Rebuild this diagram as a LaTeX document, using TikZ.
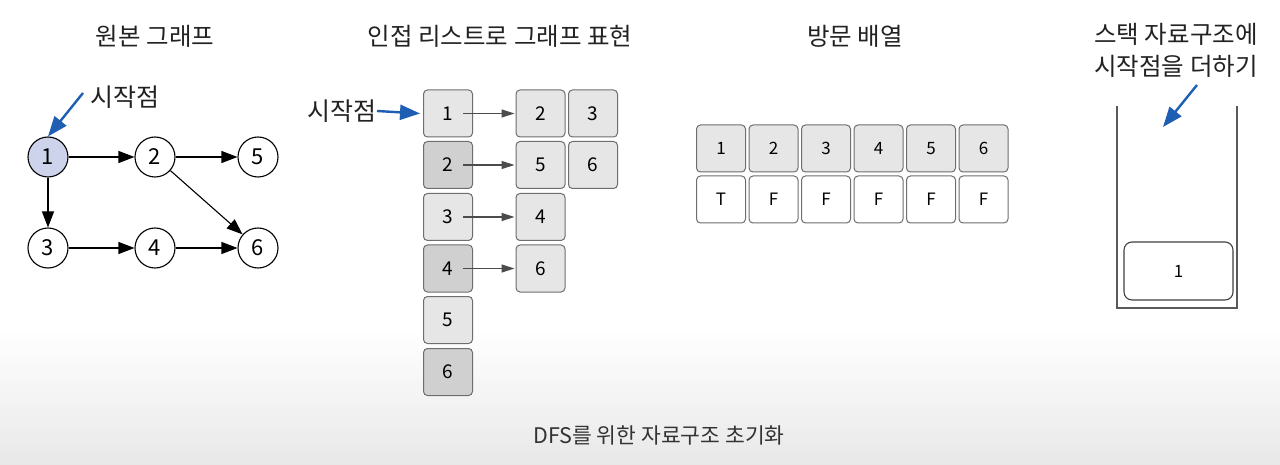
\documentclass[tikz,border=0pt]{standalone}
\usepackage{fontspec}
\setmainfont{Noto Sans CJK KR}
\usetikzlibrary{arrows.meta}
\definecolor{nodeblue}{HTML}{CDD3EA}
\definecolor{arrowblue}{HTML}{1E5FB4}
\definecolor{boxlight}{HTML}{E6E6E6}
\definecolor{boxdark}{HTML}{D0D0D0}
\definecolor{boxedge}{HTML}{6E6E6E}
\definecolor{textgray}{HTML}{222222}
\tikzset{
  title/.style={font=\fontsize{24.5}{28}\selectfont, text=textgray, inner sep=0pt},
  gnode/.style={circle, draw=black, line width=1.1pt, minimum size=40pt, inner sep=0pt, fill=white, font=\fontsize{22}{24}\selectfont},
  garrow/.style={line width=1.1pt, -{Triangle[length=16pt,width=12pt]}},
  lbox/.style={draw=boxedge, line width=1pt, rounded corners=4pt, minimum width=49pt, minimum height=47pt, inner sep=0pt, fill=boxlight, font=\fontsize{19}{22}\selectfont},
  dbox/.style={lbox, fill=boxdark},
  wbox/.style={lbox, fill=white},
  vbox/.style={lbox, font=\fontsize{17}{20}\selectfont},
  larrow/.style={draw=black!70, line width=1.3pt, -{Triangle[length=13pt,width=8pt]}},
  barrow/.style={draw=arrowblue, line width=2.4pt, -{Triangle[length=20pt,width=15pt]}},
  lab/.style={font=\fontsize{25}{28}\selectfont, text=textgray, inner sep=0pt}
}
\begin{document}
\begin{tikzpicture}[x=1pt,y=-1pt]
\useasboundingbox (0,0) rectangle (1280,465);
\fill[white] (0,0) rectangle (1280,465);
\shade[top color=white, bottom color=black!9] (0,330) rectangle (1280,465);

% titles
\node[title] (t1) at (155,36) {원본 그래프};
\node[title] (t2) at (500,36) {인접 리스트로 그래프 표현};
\node[title] (t3) at (855,36) {방문 배열};
\node[title] (t4a) at (1176,34) {스택 자료구조에};
\node[title] (t4b) at (1176,66) {시작점을 더하기};

% graph
\node[gnode, fill=nodeblue] (g1) at (48,157) {1};
\node[gnode] (g2) at (155,157) {2};
\node[gnode] (g5) at (258,157) {5};
\node[gnode] (g3) at (48,248) {3};
\node[gnode] (g4) at (155,248) {4};
\node[gnode] (g6) at (258,248) {6};
\draw[garrow] (g1) -- (g2);
\draw[garrow] (g2) -- (g5);
\draw[garrow] (g1) -- (g3);
\draw[garrow] (g3) -- (g4);
\draw[garrow] (g4) -- (g6);
\draw[garrow] (g2) -- (g6);
\node[lab, anchor=west] (s1) at (90,97) {시작점};
\coordinate (s1a) at (83,93);
\draw[barrow] (s1a) -- (g1.north);

% adjacency list
\node[lbox] (a1) at (448,113.5) {1};
\node[dbox] (a2) at (448,165) {2};
\node[lbox] (a3) at (448,217) {3};
\node[dbox] (a4) at (448,268.5) {4};
\node[lbox] (a5) at (448,320) {5};
\node[dbox] (a6) at (448,372) {6};
\node[lbox] (b12) at (540.5,113.5) {2};
\node[lbox] (b13) at (593,113.5) {3};
\node[lbox] (b25) at (540.5,165) {5};
\node[lbox] (b26) at (593,165) {6};
\node[lbox] (b34) at (540.5,217) {4};
\node[lbox] (b46) at (540.5,268.5) {6};
\foreach \i/\j in {a1/b12,a2/b25,a3/b34,a4/b46}{
  \draw[larrow] ([xshift=-10pt]\i.east) -- ([xshift=-1pt]\j.west);
}
\node[lab, anchor=east] (s2) at (377,111) {시작점};
\draw[barrow] (s2.east) -- ([xshift=-3pt]a1.west);

% visit array
\foreach \k/\x/\v in {1/721/T,2/773.5/F,3/826/F,4/878.5/F,5/931/F,6/983.5/F}{
  \node[vbox] (v\k) at (\x,148.5) {\k};
  \node[vbox, fill=white] (w\k) at (\x,199.5) {\v};
}

% stack
\draw[draw=black!65, line width=1.6pt] (1117,106) -- (1117,308) -- (1237,308) -- (1237,106);
\node[wbox, draw=black!75, line width=1.1pt, minimum width=109pt, minimum height=58pt, rounded corners=8pt, font=\fontsize{17}{20}\selectfont] (st1) at (1178.5,271) {1};
\coordinate (s3a) at (1197,85);
\coordinate (s3b) at (1163,127);
\draw[barrow] (s3a) -- (s3b);

% caption
\node[font=\fontsize{21.5}{24}\selectfont, text=black!80, inner sep=0pt] (cap) at (659,435) {DFS를 위한 자료구조 초기화};
\end{tikzpicture}
\end{document}
